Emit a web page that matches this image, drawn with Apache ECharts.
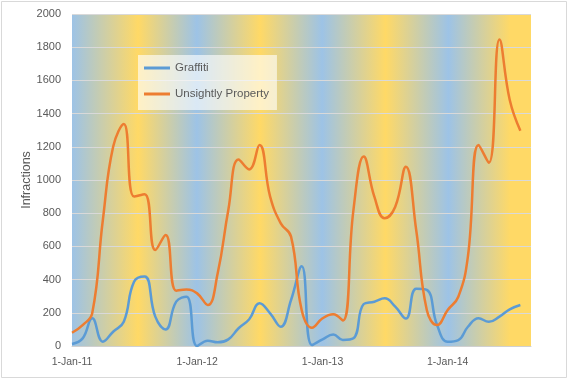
<!DOCTYPE html>
<html>
<head>
<meta charset="utf-8">
<script src="https://cdn.jsdelivr.net/npm/echarts@6/dist/echarts.min.js"></script>
<style>
html,body{margin:0;padding:0;background:#fff;}
#chart{width:568px;height:379px;}
</style>
</head>
<body>
<div id="chart"></div>
<script>
// Monthly observations, Jan 2011 .. Aug 2014
const months = [
  '2011-01','2011-02','2011-03','2011-04','2011-05','2011-06','2011-07','2011-08','2011-09','2011-10','2011-11','2011-12',
  '2012-01','2012-02','2012-03','2012-04','2012-05','2012-06','2012-07','2012-08','2012-09','2012-10','2012-11','2012-12',
  '2013-01','2013-02','2013-03','2013-04','2013-05','2013-06','2013-07','2013-08','2013-09','2013-10','2013-11','2013-12',
  '2014-01','2014-02','2014-03','2014-04','2014-05','2014-06','2014-07','2014-08'
];
const graffiti = [
  12, 46, 167, 26, 86, 146, 387, 418, 177, 100, 267, 297,
  0, 32, 22, 40, 107, 161, 257, 197, 116, 277, 480, 6,
  40, 70, 36, 46, 253, 267, 287, 237, 165, 345, 338, 126,
  26, 36, 116, 167, 146, 177, 221, 247
];
const unsightly = [
  80, 126, 197, 759, 1200, 1337, 900, 914, 578, 669, 333, 341,
  317, 247, 438, 819, 1124, 1064, 1211, 900, 739, 659, 217, 110,
  167, 191, 153, 819, 1141, 900, 769, 839, 1080, 700, 217, 126,
  217, 297, 540, 1211, 1104, 1847, 1482, 1297
];
const yearTicks = ['2011-01-01','2012-01-01','2013-01-01','2014-01-01'];
const axisStart = '2011-01-01';
const axisEnd = '2014-09-01';

function toMs(s){
  const p = s.split('-').map(Number);
  return Date.UTC(p[0], p[1]-1, p[2] || 1);
}
const MON = ['Jan','Feb','Mar','Apr','May','Jun','Jul','Aug','Sep','Oct','Nov','Dec'];
function fmt(v){
  const d = new Date(v);
  return d.getUTCDate() + '-' + MON[d.getUTCMonth()] + '-' + String(d.getUTCFullYear()).slice(2);
}

const chart = echarts.init(document.getElementById('chart'), null, {renderer:'canvas'});
const blue = '#9DC3E6', yellow = '#FFD966';
const txt = '#595959';
const font = 'Liberation Sans, Arial, sans-serif';

chart.setOption({
  animation: false,
  backgroundColor: '#fff',
  graphic: [{
    type: 'rect', silent: true, z: 100,
    shape: {x: 1.5, y: 1.5, width: 565, height: 376},
    style: {fill: 'none', stroke: '#d9d9d9', lineWidth: 1}
  }],
  grid: {
    left: 72, top: 14, right: 37, bottom: 33,
    show: true, borderWidth: 0,
    backgroundColor: {
      type: 'linear', x: 0, y: 0, x2: 1, y2: 0,
      colorStops: [
        {offset: 0, color: blue},
        {offset: 0.144, color: yellow},
        {offset: 0.272, color: blue},
        {offset: 0.41, color: yellow},
        {offset: 0.545, color: blue},
        {offset: 0.683, color: yellow},
        {offset: 0.82, color: blue},
        {offset: 0.955, color: yellow},
        {offset: 1, color: yellow}
      ]
    }
  },
  legend: {
    orient: 'vertical',
    left: 138, top: 55,
    backgroundColor: 'rgba(255,255,255,0.62)',
    padding: [7, 8, 10, 6],
    itemGap: 14,
    itemWidth: 26, itemHeight: 3,
    icon: 'rect',
    textStyle: {color: txt, fontSize: 11.5, fontFamily: font},
    data: ['Graffiti', 'Unsightly Property']
  },
  xAxis: {
    type: 'value',
    min: toMs(axisStart), max: toMs(axisEnd),
    axisLine: {show: true, lineStyle: {color: '#d0d0d0', width: 1}},
    axisTick: {show: false},
    splitLine: {show: false},
    axisLabel: {
      customValues: yearTicks.map(toMs),
      formatter: fmt,
      color: txt, fontSize: 10.5, fontFamily: font, margin: 11
    }
  },
  yAxis: {
    type: 'value',
    min: 0, max: 2000, interval: 200,
    name: 'Infractions',
    nameLocation: 'middle',
    nameGap: 39,
    nameMoveOverlap: false,
    nameTextStyle: {color: txt, fontSize: 12.5, fontFamily: font},
    axisLine: {show: false},
    axisTick: {show: false},
    splitLine: {lineStyle: {color: '#d9d9d9', width: 1}},
    axisLabel: {color: txt, fontSize: 11, fontFamily: font, margin: 11, formatter: v => String(v)}
  },
  series: [
    {
      name: 'Graffiti', type: 'line', smooth: 0.45, symbol: 'none',
      itemStyle: {color: '#5B9BD5'},
      lineStyle: {color: '#5B9BD5', width: 2.5},
      data: months.map((m, i) => [toMs(m), graffiti[i]])
    },
    {
      name: 'Unsightly Property', type: 'line', smooth: 0.45, symbol: 'none',
      itemStyle: {color: '#ED7D31'},
      lineStyle: {color: '#ED7D31', width: 2.5},
      data: months.map((m, i) => [toMs(m), unsightly[i]])
    }
  ]
});
</script>
</body>
</html>
